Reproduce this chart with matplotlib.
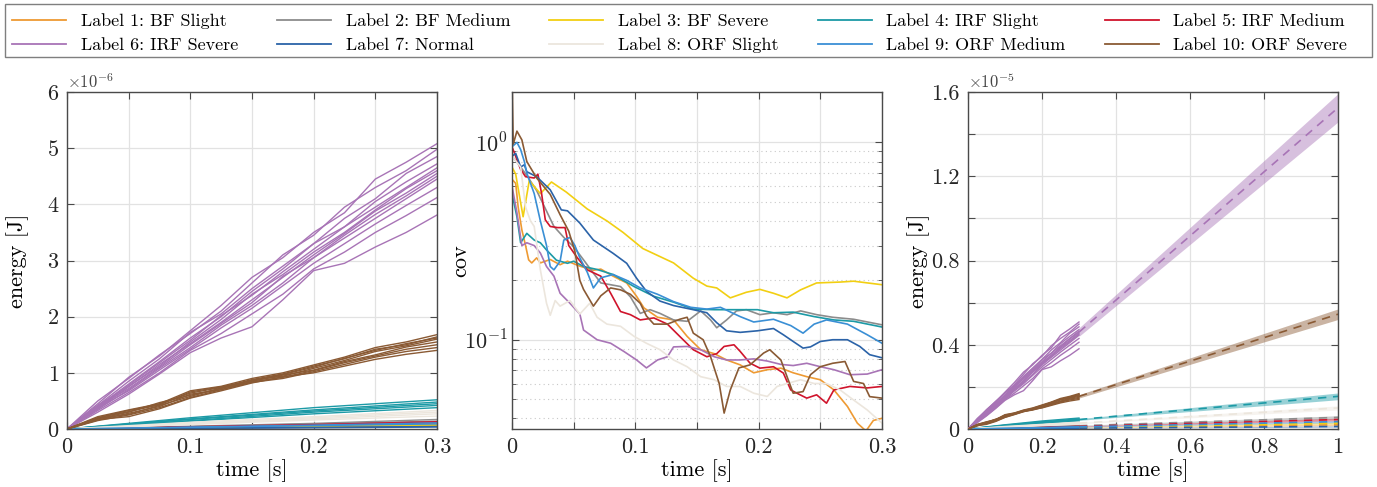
import matplotlib
matplotlib.use("Agg")
import matplotlib.pyplot as plt
import numpy as np
from matplotlib.lines import Line2D
from matplotlib.patches import Rectangle
from matplotlib.ticker import FixedLocator, FixedFormatter, NullFormatter

plt.rcParams.update({
    "font.family": "serif",
    "font.serif": ["cmr10", "DejaVu Serif"],
    "mathtext.fontset": "cm",
    "axes.formatter.use_mathtext": True,
    "axes.unicode_minus": False,
})

# ---------------------------------------------------------------- labels / colours
labels = ["Label 1: BF Slight", "Label 2: BF Medium", "Label 3: BF Severe",
          "Label 4: IRF Slight", "Label 5: IRF Medium", "Label 6: IRF Severe",
          "Label 7: Normal", "Label 8: ORF Slight", "Label 9: ORF Medium",
          "Label 10: ORF Severe"]
colors = ["#EE9A33", "#8C8C8C", "#F2CF12", "#1C9AA6", "#D0142C",
          "#A874B6", "#2B63A8", "#ECE6DD", "#3A8FD5", "#8A5A34"]

# ---------------------------------------------------------------- energy trajectories (x1e-6 J)
t_fine = [0, 0.025, 0.05, 0.075, 0.1, 0.125, 0.15, 0.175, 0.2, 0.225, 0.25, 0.275, 0.3]
t_coarse = [0, 0.1, 0.2, 0.3]

energy_irf_severe = [
    [0, 0.45, 0.92, 1.30, 1.75, 2.20, 2.70, 3.05, 3.50, 3.85, 4.45, 4.75, 5.08],
    [0, 0.50, 0.90, 1.32, 1.70, 2.10, 2.60, 3.10, 3.45, 3.95, 4.30, 4.60, 4.98],
    [0, 0.42, 0.85, 1.25, 1.72, 2.05, 2.50, 2.90, 3.30, 3.75, 4.10, 4.55, 4.85],
    [0, 0.40, 0.80, 1.20, 1.62, 2.00, 2.45, 2.85, 3.30, 3.60, 4.05, 4.40, 4.72],
    [0, 0.38, 0.78, 1.18, 1.58, 2.02, 2.38, 2.80, 3.20, 3.60, 3.95, 4.30, 4.65],
    [0, 0.42, 0.76, 1.12, 1.55, 1.95, 2.40, 2.75, 3.15, 3.50, 3.90, 4.28, 4.60],
    [0, 0.36, 0.75, 1.15, 1.52, 1.90, 2.30, 2.70, 3.10, 3.48, 3.88, 4.20, 4.55],
    [0, 0.40, 0.72, 1.10, 1.50, 1.88, 2.25, 2.72, 3.05, 3.45, 3.82, 4.15, 4.50],
    [0, 0.35, 0.70, 1.08, 1.45, 1.85, 2.20, 2.60, 3.05, 3.40, 3.75, 4.10, 4.45],
    [0, 0.38, 0.68, 1.05, 1.42, 1.80, 2.15, 2.55, 2.95, 3.30, 3.65, 3.98, 4.30],
    [0, 0.33, 0.65, 1.00, 1.40, 1.70, 2.05, 2.40, 2.85, 3.15, 3.50, 3.80, 4.12],
    [0, 0.30, 0.62, 0.98, 1.36, 1.62, 1.82, 2.30, 2.82, 2.95, 3.24, 3.50, 3.81],
]
energy_orf_severe = [
    [0, 0.22, 0.34, 0.45, 0.68, 0.76, 0.90, 1.00, 1.14, 1.28, 1.45, 1.55, 1.68],
    [0, 0.20, 0.33, 0.44, 0.64, 0.74, 0.88, 0.98, 1.12, 1.25, 1.42, 1.50, 1.64],
    [0, 0.18, 0.30, 0.47, 0.60, 0.72, 0.87, 0.94, 1.08, 1.22, 1.38, 1.48, 1.60],
    [0, 0.16, 0.28, 0.40, 0.62, 0.70, 0.85, 0.96, 1.05, 1.20, 1.32, 1.46, 1.55],
    [0, 0.19, 0.26, 0.42, 0.58, 0.73, 0.84, 0.92, 1.04, 1.18, 1.30, 1.42, 1.50],
    [0, 0.15, 0.25, 0.38, 0.56, 0.70, 0.83, 0.90, 1.02, 1.15, 1.28, 1.38, 1.45],
    [0, 0.17, 0.22, 0.36, 0.55, 0.68, 0.82, 0.93, 1.00, 1.12, 1.24, 1.33, 1.40],
    [0, 0.20, 0.31, 0.43, 0.66, 0.75, 0.86, 0.97, 1.10, 1.26, 1.40, 1.52, 1.62],
]
energy_irf_slight = [[0, 0.20, 0.38, 0.52], [0, 0.18, 0.34, 0.48], [0, 0.17, 0.32, 0.45],
                     [0, 0.15, 0.30, 0.42], [0, 0.14, 0.27, 0.38]]
energy_orf_slight = [[0, 0.12, 0.22, 0.33], [0, 0.10, 0.20, 0.30], [0, 0.09, 0.18, 0.27],
                     [0, 0.08, 0.16, 0.23]]
energy_bf_medium = [[0, 0.05, 0.10, 0.17], [0, 0.04, 0.09, 0.14]]
energy_irf_medium = [[0, 0.04, 0.08, 0.13], [0, 0.035, 0.07, 0.11]]
energy_orf_medium = [[0, 0.035, 0.07, 0.11], [0, 0.03, 0.06, 0.09]]
energy_bf_severe = [[0, 0.025, 0.05, 0.08], [0, 0.02, 0.045, 0.07]]
energy_bf_slight = [[0, 0.02, 0.04, 0.06], [0, 0.015, 0.035, 0.05]]
energy_normal = [[0, 0.015, 0.03, 0.045], [0, 0.01, 0.02, 0.035]]

# (time grid, trajectories) per label, label order 1..10
energy_groups = [
    (t_coarse, energy_bf_slight), (t_coarse, energy_bf_medium), (t_coarse, energy_bf_severe),
    (t_coarse, energy_irf_slight), (t_coarse, energy_irf_medium), (t_fine, energy_irf_severe),
    (t_coarse, energy_normal), (t_coarse, energy_orf_slight), (t_coarse, energy_orf_medium),
    (t_fine, energy_orf_severe),
]

# ---------------------------------------------------------------- linear extrapolation (x1e-5 J)
ext_t = [0.3, 1.0]
ext_center = [[0.006, 0.020], [0.0155, 0.055], [0.0075, 0.028], [0.045, 0.155], [0.012, 0.045],
              [0.46, 1.525], [0.004, 0.012], [0.028, 0.100], [0.010, 0.035], [0.155, 0.545]]
ext_halfwidth = [[0.001, 0.004], [0.002, 0.008], [0.001, 0.004], [0.004, 0.016], [0.0015, 0.006],
                 [0.02, 0.067], [0.001, 0.003], [0.003, 0.010], [0.0015, 0.005], [0.008, 0.025]]

# ---------------------------------------------------------------- coefficient of variation
cov_t = [
    [0, 0.003, 0.005, 0.008, 0.011, 0.0135, 0.016, 0.02, 0.023, 0.031, 0.039, 0.045, 0.055, 0.066,
     0.072, 0.082, 0.093, 0.101, 0.107, 0.118, 0.131, 0.142, 0.153, 0.164, 0.174, 0.185, 0.196,
     0.207, 0.218, 0.228, 0.239, 0.25, 0.261, 0.272, 0.28, 0.287, 0.293, 0.3],
    [0, 0.005, 0.012, 0.02, 0.034, 0.042, 0.05, 0.058, 0.064, 0.072, 0.08, 0.088, 0.096, 0.104,
     0.112, 0.12, 0.131, 0.142, 0.153, 0.161, 0.166, 0.174, 0.182, 0.19, 0.201, 0.212, 0.223,
     0.234, 0.247, 0.26, 0.277, 0.3],
    [0, 0.003, 0.009, 0.014, 0.023, 0.032, 0.044, 0.061, 0.077, 0.09, 0.106, 0.131, 0.147, 0.158,
     0.166, 0.177, 0.19, 0.201, 0.212, 0.223, 0.234, 0.247, 0.266, 0.277, 0.3],
    [0, 0.004, 0.007, 0.012, 0.018, 0.023, 0.028, 0.036, 0.045, 0.05, 0.058, 0.069, 0.082, 0.099,
     0.115, 0.131, 0.147, 0.164, 0.18, 0.199, 0.212, 0.228, 0.245, 0.261, 0.277, 0.3],
    [0, 0.003, 0.007, 0.011, 0.018, 0.021, 0.024, 0.027, 0.031, 0.037, 0.043, 0.046, 0.053, 0.061,
     0.072, 0.08, 0.088, 0.096, 0.104, 0.115, 0.126, 0.136, 0.147, 0.158, 0.166, 0.172, 0.18,
     0.185, 0.193, 0.201, 0.212, 0.22, 0.226, 0.231, 0.239, 0.247, 0.255, 0.261, 0.274, 0.288, 0.3],
    [0, 0.004, 0.008, 0.012, 0.018, 0.023, 0.028, 0.034, 0.039, 0.047, 0.055, 0.058, 0.069, 0.08,
     0.091, 0.101, 0.109, 0.118, 0.126, 0.131, 0.142, 0.153, 0.164, 0.174, 0.185, 0.196, 0.207,
     0.218, 0.228, 0.239, 0.25, 0.261, 0.274, 0.288, 0.3],
    [0, 0.003, 0.007, 0.01, 0.012, 0.02, 0.031, 0.04, 0.045, 0.055, 0.066, 0.082, 0.093, 0.101,
     0.109, 0.12, 0.131, 0.147, 0.158, 0.166, 0.174, 0.185, 0.199, 0.212, 0.22, 0.228, 0.236,
     0.242, 0.25, 0.26, 0.272, 0.282, 0.29, 0.3],
    [0, 0.007, 0.011, 0.015, 0.018, 0.023, 0.028, 0.031, 0.035, 0.039, 0.047, 0.055, 0.063, 0.069,
     0.077, 0.088, 0.099, 0.109, 0.12, 0.131, 0.142, 0.153, 0.164, 0.174, 0.185, 0.196, 0.207,
     0.215, 0.223, 0.234, 0.245, 0.255, 0.266, 0.277, 0.288, 0.3],
    [0, 0.004, 0.007, 0.01, 0.012, 0.018, 0.023, 0.028, 0.031, 0.034, 0.039, 0.042, 0.047, 0.051,
     0.055, 0.061, 0.066, 0.072, 0.082, 0.093, 0.104, 0.118, 0.131, 0.145, 0.158, 0.169, 0.185,
     0.196, 0.212, 0.226, 0.236, 0.245, 0.255, 0.272, 0.288, 0.3],
    [0, 0.001, 0.004, 0.008, 0.012, 0.02, 0.031, 0.039, 0.046, 0.051, 0.055, 0.058, 0.066, 0.072,
     0.08, 0.088, 0.096, 0.104, 0.109, 0.115, 0.126, 0.136, 0.142, 0.147, 0.155, 0.161, 0.168,
     0.172, 0.177, 0.184, 0.193, 0.204, 0.209, 0.218, 0.223, 0.228, 0.236, 0.242, 0.25, 0.26,
     0.27, 0.277, 0.285, 0.29, 0.3],
]
cov_v = [
    [0.65, 0.62, 0.47, 0.36, 0.30, 0.254, 0.245, 0.26, 0.245, 0.255, 0.24, 0.25, 0.236, 0.225,
     0.228, 0.21, 0.194, 0.166, 0.145, 0.13, 0.126, 0.104, 0.089, 0.085, 0.079, 0.0746, 0.068,
     0.0705, 0.0718, 0.068, 0.065, 0.0627, 0.0557, 0.0459, 0.0378, 0.0345, 0.039, 0.040],
    [0.85, 0.78, 0.68, 0.57, 0.375, 0.33, 0.296, 0.254, 0.226, 0.194, 0.19, 0.186, 0.165, 0.136,
     0.142, 0.136, 0.126, 0.124, 0.14, 0.126, 0.115, 0.126, 0.14, 0.142, 0.134, 0.137, 0.134,
     0.14, 0.134, 0.13, 0.127, 0.119],
    [0.75, 0.69, 0.42, 0.64, 0.55, 0.63, 0.56, 0.46, 0.40, 0.35, 0.29, 0.245, 0.205, 0.187,
     0.183, 0.163, 0.174, 0.18, 0.172, 0.163, 0.179, 0.194, 0.196, 0.198, 0.19],
    [0.55, 0.42, 0.31, 0.346, 0.32, 0.31, 0.285, 0.253, 0.244, 0.25, 0.235, 0.227, 0.214, 0.186,
     0.166, 0.155, 0.143, 0.142, 0.142, 0.142, 0.137, 0.138, 0.131, 0.126, 0.124, 0.116],
    [0.95, 0.85, 0.73, 0.67, 0.66, 0.69, 0.55, 0.405, 0.375, 0.37, 0.37, 0.30, 0.26, 0.226,
     0.21, 0.172, 0.139, 0.134, 0.126, 0.129, 0.12, 0.104, 0.089, 0.082, 0.085, 0.0925, 0.0943,
     0.0873, 0.0761, 0.0718, 0.073, 0.0678, 0.0557, 0.0536, 0.0506, 0.0526, 0.0477, 0.0557,
     0.058, 0.057, 0.058],
    [0.6, 0.44, 0.3, 0.31, 0.30, 0.275, 0.235, 0.21, 0.172, 0.153, 0.135, 0.112, 0.1, 0.096,
     0.087, 0.079, 0.072, 0.079, 0.082, 0.092, 0.0925, 0.089, 0.082, 0.079, 0.079, 0.08, 0.078,
     0.075, 0.074, 0.076, 0.073, 0.0705, 0.0665, 0.067, 0.0705],
    [0.85, 0.88, 0.75, 0.77, 0.71, 0.67, 0.575, 0.455, 0.45, 0.39, 0.32, 0.274, 0.244, 0.205,
     0.176, 0.157, 0.149, 0.142, 0.137, 0.122, 0.111, 0.109, 0.111, 0.114, 0.106, 0.098, 0.0907,
     0.092, 0.098, 0.1, 0.1, 0.0925, 0.084, 0.081],
    [0.85, 0.75, 0.47, 0.40, 0.375, 0.226, 0.153, 0.133, 0.158, 0.148, 0.158, 0.135, 0.153, 0.13,
     0.12, 0.117, 0.104, 0.096, 0.089, 0.079, 0.073, 0.065, 0.0627, 0.058, 0.058, 0.0536, 0.0516,
     0.058, 0.06, 0.0627, 0.06, 0.06, 0.0557, 0.0495, 0.0441, 0.0378],
    [0.95, 1.0, 0.92, 0.8, 0.7, 0.55, 0.4, 0.3, 0.235, 0.226, 0.25, 0.32, 0.33, 0.30, 0.26, 0.22,
     0.183, 0.206, 0.214, 0.2, 0.183, 0.17, 0.156, 0.146, 0.143, 0.146, 0.131, 0.123, 0.127,
     0.118, 0.108, 0.12, 0.126, 0.12, 0.106, 0.096],
    [2.2, 0.98, 1.14, 1.03, 0.80, 0.66, 0.545, 0.43, 0.355, 0.28, 0.2, 0.18, 0.148, 0.167, 0.183,
     0.179, 0.17, 0.153, 0.132, 0.12, 0.12, 0.127, 0.13, 0.108, 0.1, 0.082, 0.06, 0.0425, 0.0557,
     0.072, 0.0746, 0.0856, 0.089, 0.079, 0.065, 0.0536, 0.0546, 0.0665, 0.073, 0.076, 0.0776,
     0.0615, 0.06, 0.0515, 0.0506],
]

# ---------------------------------------------------------------- figure
W, H = 1377, 487
fig = plt.figure(figsize=(W / 100, H / 100), dpi=100)
ax_w, ax_h, ax_b = 370 / W, 337 / H, 58 / H
ax1 = fig.add_axes([67 / W, ax_b, ax_w, ax_h])
ax2 = fig.add_axes([512 / W, ax_b, ax_w, ax_h])
ax3 = fig.add_axes([968 / W, ax_b, ax_w, ax_h])

GRID = "#E2E2E2"
FRAME = "#4A4A4A"
TICK_FS = 16
YLABEL_X = -38 / 370


def style_axes(ax):
    for s in ax.spines.values():
        s.set_color(FRAME)
        s.set_linewidth(1.0)
    ax.tick_params(which="both", direction="in", top=True, right=True,
                   color=FRAME, labelsize=TICK_FS, labelcolor="#262626")
    ax.tick_params(which="major", length=5, width=0.8, pad=6)
    ax.tick_params(which="minor", length=3, width=0.6)
    ax.set_axisbelow(True)


def fixed_ticks(axis, values, text):
    axis.set_major_locator(FixedLocator(values))
    axis.set_major_formatter(FixedFormatter(text))


# ---- left: energy over the measured window
for (tg, trajs), c in zip(energy_groups, colors):
    for tr in trajs:
        ax1.plot(tg, np.array(tr) * 1e-6, color=c, lw=1.0)
ax1.set_xlim(0, 0.3)
ax1.set_ylim(0, 6e-6)
fixed_ticks(ax1.xaxis, [0, 0.05, 0.1, 0.15, 0.2, 0.25, 0.3], ["0", "", "0.1", "", "0.2", "", "0.3"])
fixed_ticks(ax1.yaxis, [i * 1e-6 for i in range(7)], [str(i) for i in range(7)])
ax1.grid(True, color=GRID, lw=0.9)
style_axes(ax1)
ax1.set_xlabel("time [s]", fontsize=16, labelpad=2)
ax1.set_ylabel("energy [J]", fontsize=16)
ax1.yaxis.set_label_coords(YLABEL_X, 0.5)
ax1.text(0.0, 1.004, r"$\times\mathregular{10^{-6}}$", transform=ax1.transAxes,
         ha="left", va="bottom", fontsize=12, color="#444444")

# ---- middle: coefficient of variation
for tt, vv, c in zip(cov_t, cov_v, colors):
    ax2.plot(tt, vv, color=c, lw=1.2)
ax2.set_yscale("log")
ax2.set_xlim(0, 0.3)
ax2.set_ylim(0.0353, 1.8)
fixed_ticks(ax2.xaxis, [0, 0.05, 0.1, 0.15, 0.2, 0.25, 0.3], ["0", "", "0.1", "", "0.2", "", "0.3"])
ax2.yaxis.set_major_locator(FixedLocator([0.1, 1.0]))
ax2.yaxis.set_major_formatter(FixedFormatter([r"$10^{-1}$", r"$10^{0}$"]))
minor = [m * d for d in (0.01, 0.1, 1.0) for m in range(2, 10)]
ax2.yaxis.set_minor_locator(FixedLocator(minor))
ax2.yaxis.set_minor_formatter(NullFormatter())
ax2.grid(True, which="major", color=GRID, lw=0.9)
ax2.grid(True, which="minor", axis="y", color="#C8C8C8", lw=0.8, ls=(0, (1, 3)))
style_axes(ax2)
ax2.tick_params(axis="y", which="major", pad=3)
ax2.tick_params(axis="x", which="minor", top=False, bottom=False)
ax2.set_xlabel("time [s]", fontsize=16, labelpad=2)
ax2.set_ylabel("cov", fontsize=16)
ax2.yaxis.set_label_coords(-42 / 370, 0.5)

# ---- right: energy with linear extrapolation to 1 s
for i, c in enumerate(colors):
    lo = np.array(ext_center[i]) - np.array(ext_halfwidth[i])
    hi = np.array(ext_center[i]) + np.array(ext_halfwidth[i])
    ax3.fill_between(ext_t, lo * 1e-5, hi * 1e-5, color=c, alpha=0.45, lw=0, zorder=1)
for i, ((tg, trajs), c) in enumerate(zip(energy_groups, colors)):
    ax3.plot(ext_t, np.array(ext_center[i]) * 1e-5, color=c, lw=1.2, ls=(0, (5, 4)), zorder=2)
    for tr in trajs:
        ax3.plot(tg, np.array(tr) * 1e-6, color=c, lw=1.0, zorder=3)
ax3.set_xlim(0, 1)
ax3.set_ylim(0, 1.6e-5)
fixed_ticks(ax3.xaxis, [0, 0.2, 0.4, 0.6, 0.8, 1.0], ["0", "0.2", "0.4", "0.6", "0.8", "1"])
fixed_ticks(ax3.yaxis, [i * 0.2e-5 for i in range(9)],
            ["0", "", "0.4", "", "0.8", "", "1.2", "", "1.6"])
ax3.grid(True, color=GRID, lw=0.9)
style_axes(ax3)
ax3.set_xlabel("time [s]", fontsize=16, labelpad=2)
ax3.set_ylabel("energy [J]", fontsize=16)
ax3.yaxis.set_label_coords(YLABEL_X, 0.5)
ax3.text(0.0, 1.004, r"$\times\mathregular{10^{-5}}$", transform=ax3.transAxes,
         ha="left", va="bottom", fontsize=12, color="#444444")

# ---- shared legend across the top, filled row by row
fig.patches.append(Rectangle((5 / W, 1 - 57 / H), 1367 / W, 53 / H, transform=fig.transFigure,
                             fill=False, edgecolor="#7F7F7F", lw=1.0))
handles = [Line2D([], [], color=c, lw=1.3) for c in colors]
order = [0, 5, 1, 6, 2, 7, 3, 8, 4, 9]
leg = fig.legend([handles[i] for i in order], [labels[i] for i in order],
                 loc="center", ncol=5, mode="expand",
                 bbox_to_anchor=(12 / W, 1 - 60 / H, 1335 / W, 53 / H),
                 fontsize=13, frameon=False,
                 handlelength=3.0, handletextpad=0.8, borderpad=0.0,
                 labelspacing=0.45, borderaxespad=0)

fig.savefig("out.png", dpi=100)
